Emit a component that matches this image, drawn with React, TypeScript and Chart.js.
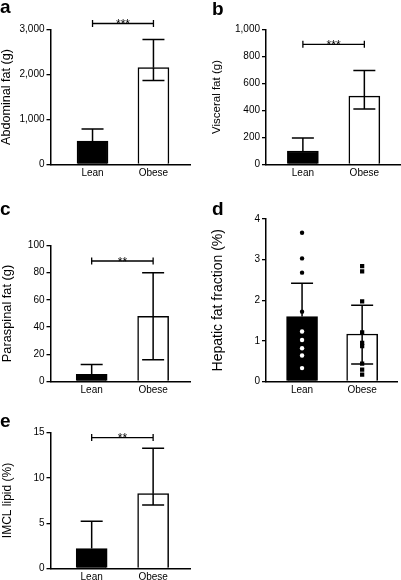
import React, { useEffect, useRef } from 'react';
import { Chart, registerables } from 'chart.js';

Chart.register(...registerables);

const categories = ['Lean', 'Obese'];

// a: Abdominal fat (g)
const abdominalMean = [520, 2155];
const abdominalHigh = [790, 2780];
const abdominalLow: (number | null)[] = [null, 1865];

// b: Visceral fat (g)
const visceralMean = [100, 507];
const visceralHigh = [197, 697];
const visceralLow: (number | null)[] = [null, 412];

// c: Paraspinal fat (g)
const paraspinalMean = [5.2, 48];
const paraspinalHigh = [12.5, 80];
const paraspinalLow: (number | null)[] = [null, 16];

// d: Hepatic fat fraction (%)
const hepaticMean = [1.6, 1.17];
const hepaticHigh = [2.42, 1.88];
const hepaticLow: (number | null)[] = [null, 0.43];
const hepaticLeanPoints = [3.66, 3.03, 2.68, 1.72, 1.23, 1.02, 0.82, 0.64, 0.33];
const hepaticObesePoints = [2.84, 2.71, 1.97, 1.21, 0.95, 0.87, 0.44, 0.29, 0.17];

// e: IMCL lipid (%)
const imclMean = [2.2, 8.25];
const imclHigh = [5.2, 13.25];
const imclLow: (number | null)[] = [null, 7.0];

const FONT = "'Liberation Sans', Arial, Helvetica, sans-serif";

type PanelSpec = {
  letter: string;
  letterX: number;
  letterY: number;
  left: number;
  top: number;
  width: number;
  height: number;
  axisLeft: number;
  areaTop: number;
  areaBottom: number;
  areaRight: number;
  xMin: number;
  xMax: number;
  yMax: number;
  yStep: number;
  title: string;
  titleSize: number;
  titleX: number;
  tickSize: number;
  catSize: number;
  mean: number[];
  high: (number | null)[];
  low: (number | null)[];
  sigY?: number;
  sigLabel?: string;
  leanPoints?: number[];
  obesePoints?: number[];
};

const panels: PanelSpec[] = [
  {
    letter: 'a', letterX: 0, letterY: -3,
    left: 0, top: 0, width: 200, height: 186,
    axisLeft: 50.5, areaTop: 29.5, areaBottom: 164.5, areaRight: 190,
    xMin: -0.69, xMax: 1.6, yMax: 3000, yStep: 1000,
    title: 'Abdominal fat (g)', titleSize: 12.6, titleX: 7, tickSize: 10, catSize: 10,
    mean: abdominalMean, high: abdominalHigh, low: abdominalLow,
    sigY: 3133, sigLabel: '***',
  },
  {
    letter: 'b', letterX: 212, letterY: -1,
    left: 200, top: 0, width: 201, height: 186,
    axisLeft: 66, areaTop: 29.5, areaBottom: 164.5, areaRight: 200,
    xMin: -0.6, xMax: 1.58, yMax: 1000, yStep: 200,
    title: 'Visceral fat (g)', titleSize: 11.5, titleX: 17, tickSize: 10, catSize: 10,
    mean: visceralMean, high: visceralHigh, low: visceralLow,
    sigY: 890, sigLabel: '***',
  },
  {
    letter: 'c', letterX: 0, letterY: 199,
    left: 0, top: 200, width: 200, height: 196,
    axisLeft: 50.5, areaTop: 45.5, areaBottom: 181.5, areaRight: 190,
    xMin: -0.67, xMax: 1.6, yMax: 100, yStep: 20,
    title: 'Paraspinal fat (g)', titleSize: 12.8, titleX: 7.5, tickSize: 10, catSize: 10,
    mean: paraspinalMean, high: paraspinalHigh, low: paraspinalLow,
    sigY: 88.6, sigLabel: '**',
  },
  {
    letter: 'd', letterX: 212, letterY: 199,
    left: 200, top: 200, width: 201, height: 196,
    axisLeft: 66, areaTop: 19, areaBottom: 181.5, areaRight: 200,
    xMin: -0.6, xMax: 1.58, yMax: 4, yStep: 1,
    title: 'Hepatic fat fraction (%)', titleSize: 14, titleX: 18, tickSize: 10, catSize: 10,
    mean: hepaticMean, high: hepaticHigh, low: hepaticLow,
    leanPoints: hepaticLeanPoints, obesePoints: hepaticObesePoints,
  },
  {
    letter: 'e', letterX: 0, letterY: 411,
    left: 0, top: 390, width: 200, height: 190,
    axisLeft: 50.5, areaTop: 42.5, areaBottom: 178.5, areaRight: 190,
    xMin: -0.67, xMax: 1.6, yMax: 15, yStep: 5,
    title: 'IMCL lipid (%)', titleSize: 12, titleX: 7.5, tickSize: 10, catSize: 10,
    mean: imclMean, high: imclHigh, low: imclLow,
    sigY: 14.44, sigLabel: '**',
  },
];

function makeOverlayPlugin(p: PanelSpec) {
  return {
    id: 'overlay_' + p.letter,
    afterDatasetsDraw(chart: any) {
      const { ctx } = chart;
      const x = chart.scales.x;
      const y = chart.scales.y;
      const cap = 11;
      ctx.save();
      ctx.strokeStyle = '#000';
      ctx.lineWidth = 1.5;
      p.mean.forEach((m, i) => {
        const px = x.getPixelForValue(i);
        const pm = y.getPixelForValue(m);
        [p.high[i], p.low[i]].forEach((v) => {
          if (v == null) return;
          const pv = y.getPixelForValue(v);
          ctx.beginPath();
          ctx.moveTo(px, pm);
          ctx.lineTo(px, pv);
          ctx.moveTo(px - cap, pv);
          ctx.lineTo(px + cap, pv);
          ctx.stroke();
        });
      });
      if (p.sigY != null && p.sigLabel) {
        const x0 = x.getPixelForValue(0);
        const x1 = x.getPixelForValue(1);
        const sy = y.getPixelForValue(p.sigY);
        ctx.lineWidth = 1.3;
        ctx.beginPath();
        ctx.moveTo(x0, sy);
        ctx.lineTo(x1, sy);
        ctx.moveTo(x0, sy - 3.5);
        ctx.lineTo(x0, sy + 3.5);
        ctx.moveTo(x1, sy - 3.5);
        ctx.lineTo(x1, sy + 3.5);
        ctx.stroke();
        ctx.fillStyle = '#000';
        ctx.font = `12px ${FONT}`;
        ctx.textAlign = 'center';
        ctx.textBaseline = 'alphabetic';
        ctx.fillText(p.sigLabel, (x0 + x1) / 2, sy + 4.5);
      }
      ctx.restore();
    },
  };
}

function Panel({ p }: { p: PanelSpec }) {
  const ref = useRef<HTMLCanvasElement | null>(null);
  useEffect(() => {
    if (!ref.current) return;
    const datasets: any[] = [];
    if (p.leanPoints) {
      datasets.push({
        type: 'scatter',
        data: p.leanPoints.map((v) => ({ x: 0, y: v })),
        pointStyle: 'circle',
        pointRadius: 2.2,
        pointBorderWidth: 0,
        pointBackgroundColor: p.leanPoints.map((v) => (v < p.mean[0] ? '#fff' : '#000')),
        order: 1,
      });
    }
    if (p.obesePoints) {
      datasets.push({
        type: 'scatter',
        data: p.obesePoints.map((v) => ({ x: 1, y: v })),
        pointStyle: 'rect',
        pointRadius: 3,
        pointBorderWidth: 0,
        pointBackgroundColor: '#000',
        order: 1,
      });
    }
    datasets.push({
      type: 'bar',
      data: p.mean.map((v, i) => ({ x: i, y: v })),
      backgroundColor: ['#000', '#fff'],
      borderColor: '#000',
      borderWidth: 1.5,
      barThickness: 31,
      order: 2,
    });
    const chart = new Chart(ref.current, {
      type: 'bar',
      data: { datasets },
      options: {
        animation: false,
        responsive: false,
        devicePixelRatio: 1,
        layout: {
          padding: { left: 0, top: p.areaTop, right: p.width - p.areaRight, bottom: 0 },
        },
        plugins: {
          legend: { display: false },
          tooltip: { enabled: false },
        },
        scales: {
          x: {
            type: 'linear',
            min: p.xMin,
            max: p.xMax,
            offset: false,
            afterBuildTicks: (scale: any) => {
              scale.ticks = categories.map((_, i) => ({ value: i }));
            },
            afterFit: (scale: any) => {
              scale.height = p.height - p.areaBottom;
            },
            grid: { display: false, drawTicks: false, tickLength: 0, offset: false },
            border: { display: true, color: '#000', width: 1.5 },
            ticks: {
              color: '#000',
              padding: 3,
              maxRotation: 0,
              autoSkip: false,
              font: { family: FONT, size: p.catSize },
              callback: (v: any) => categories[v] ?? '',
            },
          },
          y: {
            type: 'linear',
            min: 0,
            max: p.yMax,
            afterFit: (scale: any) => {
              scale.width = p.axisLeft;
            },
            grid: {
              display: true,
              drawOnChartArea: false,
              drawTicks: true,
              tickLength: 4,
              color: '#000',
              lineWidth: 1.3,
            },
            border: { display: true, color: '#000', width: 1.5 },
            ticks: {
              stepSize: p.yStep,
              color: '#000',
              padding: 2,
              font: { family: FONT, size: p.tickSize },
              callback: (v: any) => Number(v).toLocaleString('en-US'),
            },
            title: {
              display: true,
              text: p.title,
              color: '#000',
              font: { family: FONT, size: p.titleSize },
              padding: { top: p.titleX - (p.titleSize * 1.2) / 2, bottom: 0 },
            },
          },
        },
      },
      plugins: [makeOverlayPlugin(p)],
    } as any);
    return () => chart.destroy();
  }, [p]);
  return (
    <canvas
      ref={ref}
      width={p.width}
      height={p.height}
      style={{ position: 'absolute', left: p.left, top: p.top, width: p.width, height: p.height }}
    />
  );
}

export default function App() {
  return (
    <div
      style={{
        position: 'absolute',
        left: 0,
        top: 0,
        width: 401,
        height: 580,
        background: '#fff',
        overflow: 'hidden',
        fontFamily: FONT,
      }}
    >
      {panels.map((p) => (
        <Panel key={p.letter} p={p} />
      ))}
      {panels.map((p) => (
        <div
          key={'l' + p.letter}
          style={{
            position: 'absolute',
            left: p.letterX,
            top: p.letterY,
            fontSize: 19,
            lineHeight: '19px',
            fontWeight: 'bold',
            color: '#000',
          }}
        >
          {p.letter}
        </div>
      ))}
    </div>
  );
}
